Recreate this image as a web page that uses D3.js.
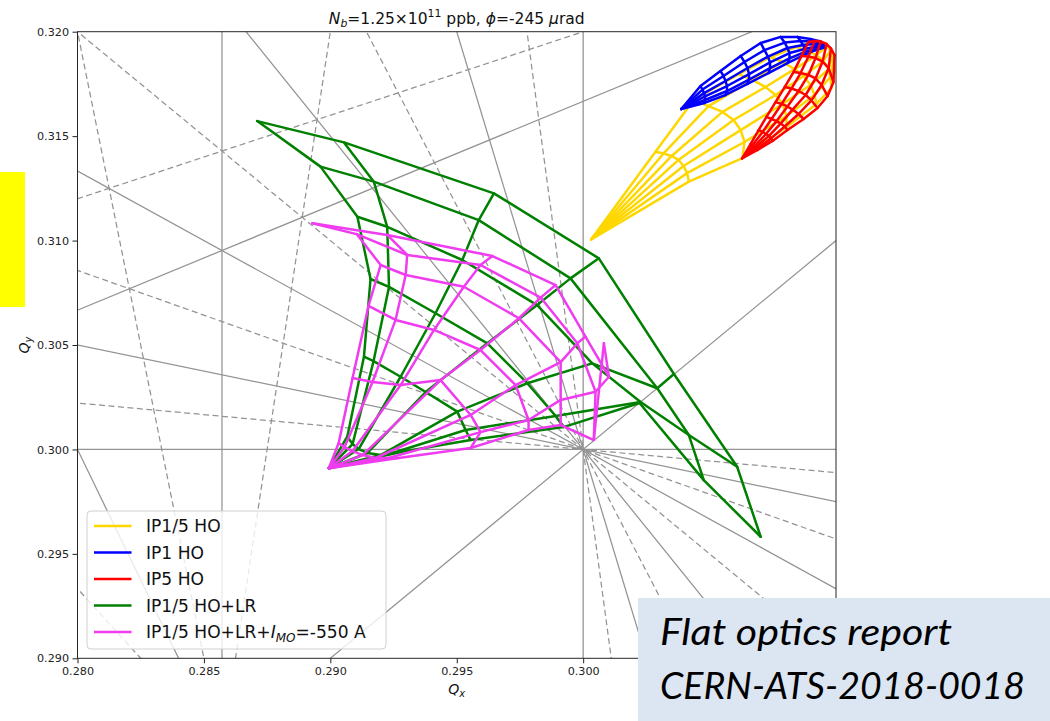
<!DOCTYPE html>
<html>
<head>
<meta charset="utf-8">
<script src="https://cdn.jsdelivr.net/npm/d3@7"></script>
<style>
  body { margin: 0; background: #ffffff; }
  svg { display: block; font-family: "DejaVu Sans", sans-serif; }
</style>
</head>
<body>
<svg id="chart" width="1050" height="721"></svg>
<script>
// ---- axis ticks (the two rightmost x ticks sit under the note box) ----
const xTicks = [0.280, 0.285, 0.290, 0.295, 0.300];
const yTicks = [0.290, 0.295, 0.300, 0.305, 0.310, 0.315, 0.320];

// ---- resonance lines m*Qx + n*Qy = p (orders up to 10 crossing the window) ----
const resonances = [
  [7, 0, 2], [6, 1, 2], [5, 2, 2], [4, 3, 2],
  [-2, 5, 1], [8, -1, 2], [3, -6, -1], [2, -2, 0],
  [10, 0, 3], [9, 1, 3], [8, 2, 3], [7, 3, 3], [6, 4, 3], [5, 5, 3],
  [4, 6, 3], [3, 7, 3], [2, 8, 3], [1, 9, 3], [0, 10, 3]
];

// ---- tune footprints: small-amplitude tip + rays (constant angle), node k = amplitude step k ----
const hoTip = [0.30032, 0.31006];
const hoRays = [
  [[0.30286,0.31425],[0.30437,0.31673],[0.30615,0.31797],[0.30741,0.31879],[0.30844,0.31927],[0.30915,0.31951]],
  [[0.30318,0.31417],[0.30496,0.31644],[0.30670,0.31769],[0.30789,0.31855],[0.30884,0.31908],[0.30939,0.31941]],
  [[0.30350,0.31405],[0.30551,0.31616],[0.30721,0.31735],[0.30836,0.31821],[0.30923,0.31888],[0.30963,0.31931]],
  [[0.30377,0.31386],[0.30595,0.31577],[0.30761,0.31697],[0.30872,0.31788],[0.30951,0.31860],[0.30978,0.31912]],
  [[0.30397,0.31357],[0.30623,0.31529],[0.30789,0.31654],[0.30899,0.31745],[0.30971,0.31821],[0.30986,0.31888]],
  [[0.30411,0.31323],[0.30638,0.31472],[0.30804,0.31596],[0.30915,0.31697],[0.30978,0.31783],[0.30990,0.31860]],
  [[0.30418,0.31282],[0.30630,0.31395],[0.30804,0.31544],[0.30923,0.31654],[0.30982,0.31730],[0.30994,0.31817]]
];

const ip1Tip = [0.30388, 0.31630];
const ip1Rays = [
  [[0.30464,0.31740],[0.30543,0.31812],[0.30623,0.31884],[0.30702,0.31946],[0.30781,0.31975],[0.30848,0.31975],[0.30899,0.31965],[0.30935,0.31955]],
  [[0.30472,0.31723],[0.30555,0.31788],[0.30638,0.31855],[0.30717,0.31912],[0.30797,0.31948],[0.30860,0.31955],[0.30909,0.31953],[0.30941,0.31951]],
  [[0.30478,0.31706],[0.30563,0.31764],[0.30650,0.31826],[0.30731,0.31881],[0.30808,0.31922],[0.30870,0.31936],[0.30917,0.31941],[0.30947,0.31943]],
  [[0.30482,0.31690],[0.30569,0.31740],[0.30656,0.31797],[0.30739,0.31853],[0.30816,0.31898],[0.30876,0.31917],[0.30921,0.31929],[0.30951,0.31936]],
  [[0.30482,0.31673],[0.30569,0.31716],[0.30656,0.31771],[0.30739,0.31826],[0.30816,0.31872],[0.30878,0.31903],[0.30923,0.31920],[0.30953,0.31929]],
  [[0.30480,0.31659],[0.30563,0.31697],[0.30650,0.31750],[0.30733,0.31802],[0.30808,0.31850],[0.30872,0.31888],[0.30919,0.31912],[0.30955,0.31924]]
];

const ip5Tip = [0.30629, 0.31394];
const ip5Rays = [
  [[0.30662,0.31462],[0.30694,0.31529],[0.30725,0.31592],[0.30761,0.31663],[0.30797,0.31735],[0.30832,0.31807],[0.30864,0.31884],[0.30891,0.31951]],
  [[0.30670,0.31458],[0.30710,0.31520],[0.30745,0.31582],[0.30785,0.31654],[0.30824,0.31728],[0.30860,0.31802],[0.30891,0.31881],[0.30915,0.31955]],
  [[0.30676,0.31450],[0.30723,0.31510],[0.30765,0.31572],[0.30808,0.31642],[0.30852,0.31716],[0.30891,0.31793],[0.30919,0.31874],[0.30939,0.31953]],
  [[0.30682,0.31446],[0.30735,0.31501],[0.30781,0.31560],[0.30828,0.31627],[0.30880,0.31697],[0.30919,0.31776],[0.30947,0.31857],[0.30963,0.31941]],
  [[0.30686,0.31438],[0.30743,0.31489],[0.30797,0.31546],[0.30852,0.31606],[0.30903,0.31671],[0.30943,0.31745],[0.30971,0.31826],[0.30980,0.31920]],
  [[0.30690,0.31434],[0.30749,0.31477],[0.30808,0.31529],[0.30872,0.31582],[0.30927,0.31635],[0.30967,0.31692],[0.30990,0.31759],[0.30994,0.31888]]
];

const lrTip = [0.28994, 0.29910];
const lrRays = [
  [[0.29067,0.30061],[0.29133,0.30444],[0.29159,0.30816],[0.29107,0.31114],[0.28961,0.31354],[0.28711,0.31572]],
  [[0.29088,0.30026],[0.29171,0.30423],[0.29232,0.30778],[0.29225,0.31066],[0.29172,0.31282],[0.29054,0.31470]],
  [[0.29112,0.30002],[0.29278,0.30348],[0.29416,0.30652],[0.29522,0.30907],[0.29587,0.31098],[0.29647,0.31226]],
  [[0.29147,0.29983],[0.29377,0.30275],[0.29621,0.30508],[0.29818,0.30691],[0.29950,0.30819],[0.30062,0.30915]],
  [[0.29199,0.29973],[0.29502,0.30181],[0.29779,0.30317],[0.30036,0.30412],[0.30293,0.30293],[0.30359,0.30361]],
  [[0.29246,0.29983],[0.29535,0.30093],[0.29891,0.30160],[0.30227,0.30227],[0.30418,0.30069],[0.30609,0.29917]],
  [[0.29278,0.29988],[0.29555,0.30045],[0.29922,0.30107],[0.30223,0.30222],[0.30477,0.29853],[0.30702,0.29582]]
];

const moTip = [0.28994, 0.29910];
const moRays = [
  [[0.29033,0.30031],[0.29088,0.30342],[0.29151,0.30687],[0.29199,0.30883],[0.29104,0.31031],[0.28929,0.31083]],
  [[0.29056,0.30011],[0.29167,0.30323],[0.29258,0.30620],[0.29298,0.30835],[0.29304,0.30931],[0.29225,0.31027]],
  [[0.29088,0.29992],[0.29278,0.30308],[0.29410,0.30572],[0.29528,0.30779],[0.29594,0.30883],[0.29641,0.30926]],
  [[0.29128,0.29973],[0.29436,0.30332],[0.29594,0.30476],[0.29746,0.30628],[0.29832,0.30727],[0.29891,0.30787]],
  [[0.29179,0.29959],[0.29555,0.30165],[0.29733,0.30308],[0.29911,0.30418],[0.29977,0.30508],[0.30009,0.30540]],
  [[0.29230,0.29959],[0.29594,0.30083],[0.29784,0.30141],[0.29911,0.30237],[0.30049,0.30276],[0.30102,0.30348]],
  [[0.29270,0.29959],[0.29555,0.30007],[0.29784,0.30093],[0.29911,0.30117],[0.30042,0.30045],[0.30082,0.30508]]
];

const seriesLabels = [
  "IP1/5 HO", "IP1 HO", "IP5 HO", "IP1/5 HO+LR", "IP1/5 HO+LR+$I_{MO}$=-550 A"
];
const titleText = "$N_b$=1.25\u00d710$^{11}$ ppb, $\\phi$=-245 $\\mu$rad";
const noteLines = ["Flat optics report", "CERN-ATS-2018-0018"];

// ---- layout ----
const svg = d3.select("#chart");
const M = { left: 77.5, right: 836, top: 31.7, bottom: 658.3 };
const x = d3.scaleLinear().domain([0.280, 0.310]).range([M.left, M.right]);
const y = d3.scaleLinear().domain([0.290, 0.320]).range([M.bottom, M.top]);

const colors = ["#FFD700", "#0000FF", "#FF0000", "#008000", "#F03CF0"];
const series = [
  { tip: hoTip, rays: hoRays },
  { tip: ip1Tip, rays: ip1Rays },
  { tip: ip5Tip, rays: ip5Rays },
  { tip: lrTip, rays: lrRays },
  { tip: moTip, rays: moRays }
];

// mathtext-like rich text: $...$ segments get italic letters, _ and ^ scripts
function rich(sel, str, fs) {
  let shift = 0;
  const add = (t, italic, size, target) => {
    if (!t) return;
    sel.append("tspan").text(t)
      .attr("font-style", italic ? "italic" : null)
      .attr("font-size", size)
      .attr("dy", target - shift);
    shift = target;
  };
  const symbols = { phi: "\u03d5", mu: "\u03bc" };
  str.split("$").forEach((seg, k) => {
    if (k % 2 === 0) { add(seg, false, fs, 0); return; }
    let i = 0;
    while (i < seg.length) {
      const c = seg[i];
      if (c === "_" || c === "^") {
        i++;
        let g;
        if (seg[i] === "{") { const e = seg.indexOf("}", i); g = seg.slice(i + 1, e); i = e + 1; }
        else { g = seg[i]; i++; }
        add(g, /[A-Za-z]/.test(g), fs * 0.7, c === "_" ? fs * 0.22 : -fs * 0.42);
      } else if (c === "\\") {
        const m = /^\\([a-z]+)/.exec(seg.slice(i));
        add(symbols[m[1]], true, fs, 0);
        i += m[0].length;
      } else {
        let j = i;
        while (j < seg.length && !"_^\\".includes(seg[j])) j++;
        seg.slice(i, j).match(/[A-Za-z]+|[^A-Za-z]+/g)
          .forEach(r => add(r, /[A-Za-z]/.test(r), fs, 0));
        i = j;
      }
    }
  });
}

svg.append("defs").append("clipPath").attr("id", "plotclip")
  .append("rect").attr("x", M.left).attr("y", M.top)
  .attr("width", M.right - M.left).attr("height", M.bottom - M.top);

const plot = svg.append("g").attr("clip-path", "url(#plotclip)");

// resonance lines: even n solid, odd n dashed
const [x0, x1] = x.domain();
resonances.forEach(([m, n, p]) => {
  let pts;
  if (n === 0) pts = [[p / m, 0.28], [p / m, 0.33]];
  else pts = [[x0 - 0.01, (p - m * (x0 - 0.01)) / n], [x1 + 0.01, (p - m * (x1 + 0.01)) / n]];
  plot.append("line")
    .attr("x1", x(pts[0][0])).attr("y1", y(pts[0][1]))
    .attr("x2", x(pts[1][0])).attr("y2", y(pts[1][1]))
    .attr("stroke", "#939393")
    .attr("stroke-width", 1.25)
    .attr("stroke-dasharray", Math.abs(n) % 2 === 1 ? "6,3.5" : null);
});

// footprints: rays from the tip and arcs of equal amplitude
const line = d3.line().x(d => x(d[0])).y(d => y(d[1]));
series.forEach((s, si) => {
  const g = plot.append("g")
    .attr("fill", "none").attr("stroke", colors[si])
    .attr("stroke-width", 2.5).attr("stroke-linejoin", "round").attr("stroke-linecap", "round");
  s.rays.forEach(r => g.append("path").attr("d", line([s.tip, ...r])));
  const nAmp = s.rays[0].length;
  for (let k = 0; k < nAmp; k++) {
    g.append("path").attr("d", line(s.rays.map(r => r[k])));
  }
});

// axes
const fmt = d3.format(".3f");
const xAxis = svg.append("g").attr("transform", `translate(0,${M.bottom})`)
  .call(d3.axisBottom(x).tickValues(xTicks).tickFormat(fmt).tickSize(5).tickPadding(3.5));
const yAxis = svg.append("g").attr("transform", `translate(${M.left},0)`)
  .call(d3.axisLeft(y).tickValues(yTicks).tickFormat(fmt).tickSize(5).tickPadding(3.5));
[xAxis, yAxis].forEach(a => {
  a.select(".domain").remove();
  a.selectAll(".tick line").attr("stroke", "#222").attr("stroke-width", 1);
  a.selectAll(".tick text").attr("font-size", 11.2).attr("fill", "#222")
    .attr("font-family", "DejaVu Sans");
});

svg.append("rect").attr("x", M.left).attr("y", M.top)
  .attr("width", M.right - M.left).attr("height", M.bottom - M.top)
  .attr("fill", "none").attr("stroke", "#262626").attr("stroke-width", 1);

// title and axis labels
rich(svg.append("text").attr("x", (M.left + M.right) / 2).attr("y", 24)
  .attr("text-anchor", "middle").attr("fill", "#111"), titleText, 15.5);
rich(svg.append("text").attr("x", (M.left + M.right) / 2).attr("y", 694)
  .attr("text-anchor", "middle").attr("fill", "#111"), "$Q_x$", 14);
rich(svg.append("text").attr("transform", "translate(29,345) rotate(-90)")
  .attr("text-anchor", "middle").attr("fill", "#111"), "$Q_y$", 14);

// legend
const lg = svg.append("g");
lg.append("rect").attr("x", 87).attr("y", 511).attr("width", 299).attr("height", 138)
  .attr("rx", 4).attr("fill", "#ffffff").attr("fill-opacity", 0.8)
  .attr("stroke", "#d0d0d0").attr("stroke-width", 1);
seriesLabels.forEach((lab, i) => {
  const yy = 526 + i * 26.5;
  lg.append("line").attr("x1", 94).attr("x2", 131.5).attr("y1", yy).attr("y2", yy)
    .attr("stroke", colors[i]).attr("stroke-width", 2.5);
  rich(lg.append("text").attr("x", 146).attr("y", yy + 6.2).attr("fill", "#111"), lab, 17.1);
});

// side marker and note box
svg.append("rect").attr("x", 0).attr("y", 172).attr("width", 25).attr("height", 135).attr("fill", "#FFFF00");
svg.append("rect").attr("x", 638).attr("y", 598).attr("width", 412).attr("height", 123).attr("fill", "#DCE6F2");
const noteWidths = [292, 365];
noteLines.forEach((t, i) => {
  svg.append("text").attr("x", 660).attr("y", 645 + i * 54)
    .attr("font-family", "Lato, 'Open Sans', sans-serif").attr("font-style", "italic")
    .attr("font-size", 37).attr("fill", "#000")
    .attr("textLength", noteWidths[i]).attr("lengthAdjust", "spacingAndGlyphs")
    .text(t);
});
</script>
</body>
</html>
